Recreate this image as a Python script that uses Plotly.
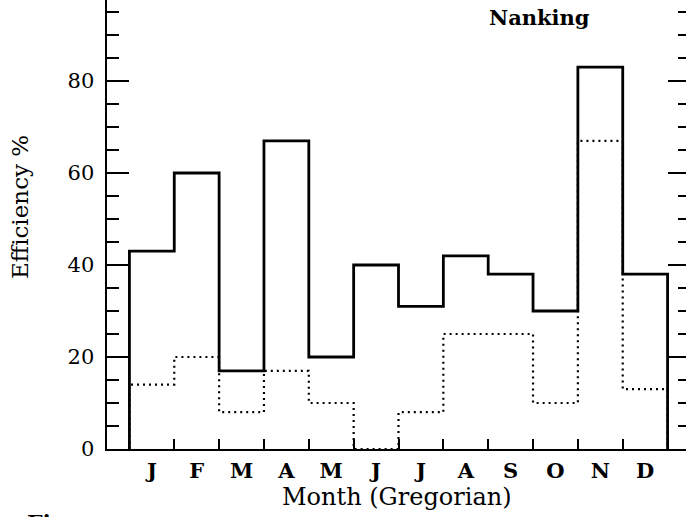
import plotly.graph_objects as go

months = ["J", "F", "M", "A", "M", "J", "J", "A", "S", "O", "N", "D"]
solid_eff = [43, 60, 17, 67, 20, 40, 31, 42, 38, 30, 83, 38]
dotted_eff = [14, 20, 8, 17, 10, 0, 8, 25, 25, 10, 67, 13]
y_ticks = [0, 20, 40, 60, 80, 100]

centers = list(range(1, len(months) + 1))


def step_xy(vals):
    xs = [centers[0] - 0.5]
    ys = [0]
    for c, v in zip(centers, vals):
        xs += [c - 0.5, c + 0.5]
        ys += [v, v]
    xs.append(centers[-1] + 0.5)
    ys.append(0)
    return xs, ys


fig = go.Figure()
xd, yd = step_xy(dotted_eff)
fig.add_trace(go.Scatter(x=xd, y=yd, mode="lines",
                         line=dict(color="black", width=2.2, dash="2px,4px"),
                         showlegend=False, hoverinfo="skip"))
xs, ys = step_xy(solid_eff)
fig.add_trace(go.Scatter(x=xs, y=ys, mode="lines",
                         line=dict(color="black", width=2.8),
                         showlegend=False, hoverinfo="skip"))

# figure is slightly larger than the window; the page is shifted so the
# top of the frame falls just above the visible area (as in the reference)
SHIFT_Y = 11
W, H = 692, 517 + SHIFT_Y
L, B, R = 107, 68, 2
PW = W - L - R
PH = H - B

serif = "DejaVu Serif"


def px_x(x):
    return (x - L) / PW


def px_y(y):
    return 1 - (y + SHIFT_Y) / PH


fig.update_layout(
    width=W, height=H,
    margin=dict(l=L, r=R, t=0, b=B, pad=0),
    paper_bgcolor="white", plot_bgcolor="white",
    font=dict(family=serif, color="black"),
    xaxis=dict(
        range=[0, 13], showgrid=False, zeroline=False,
        showline=True, linecolor="black", linewidth=2,
        tickmode="array", tickvals=centers, ticktext=months,
        ticks="", tickfont=dict(family=serif, size=21, weight="bold"),
        ticklabelstandoff=2,
        minor=dict(tickmode="linear", tick0=0.5, dtick=1, ticks="inside",
                   ticklen=10, tickwidth=2, tickcolor="black", showgrid=False),
    ),
    yaxis=dict(
        range=[0, 100], showgrid=False, zeroline=False,
        showline=True, linecolor="black", linewidth=2.5, mirror="ticks",
        tickmode="array", tickvals=y_ticks, ticks="inside", ticklen=22,
        tickwidth=1.5, tickcolor="black",
        tickfont=dict(family=serif, size=21),
        ticklabelstandoff=6,
        minor=dict(tickmode="linear", tick0=0, dtick=5, ticks="inside",
                   ticklen=12, tickwidth=1.5, tickcolor="black", showgrid=False),
    ),
    annotations=[
        dict(text="Month (Gregorian)", xref="paper", yref="paper",
             x=px_x(397), y=px_y(497), showarrow=False,
             font=dict(family=serif, size=24), xanchor="center", yanchor="middle"),
        dict(text="Efficiency %", xref="paper", yref="paper", textangle=-90,
             x=px_x(20), y=px_y(207), showarrow=False,
             font=dict(family=serif, size=23), xanchor="center", yanchor="middle"),
        dict(text="<b>Nanking</b>", xref="paper", yref="paper",
             x=px_x(539), y=px_y(18), showarrow=False,
             font=dict(family=serif, size=21), xanchor="center", yanchor="middle"),
        dict(text="<b>Figure</b>", xref="paper", yref="paper",
             x=px_x(25), y=px_y(508), showarrow=False,
             font=dict(family=serif, size=22), xanchor="left", yanchor="top"),
    ],
)

post = (
    "document.documentElement.style.overflow='hidden';"
    "document.body.style.overflow='hidden';"
    "document.body.style.margin='-%dpx 0 0 0';" % SHIFT_Y
)
fig.write_html("out.html", post_script=post,
               config={"displayModeBar": False, "staticPlot": True})
